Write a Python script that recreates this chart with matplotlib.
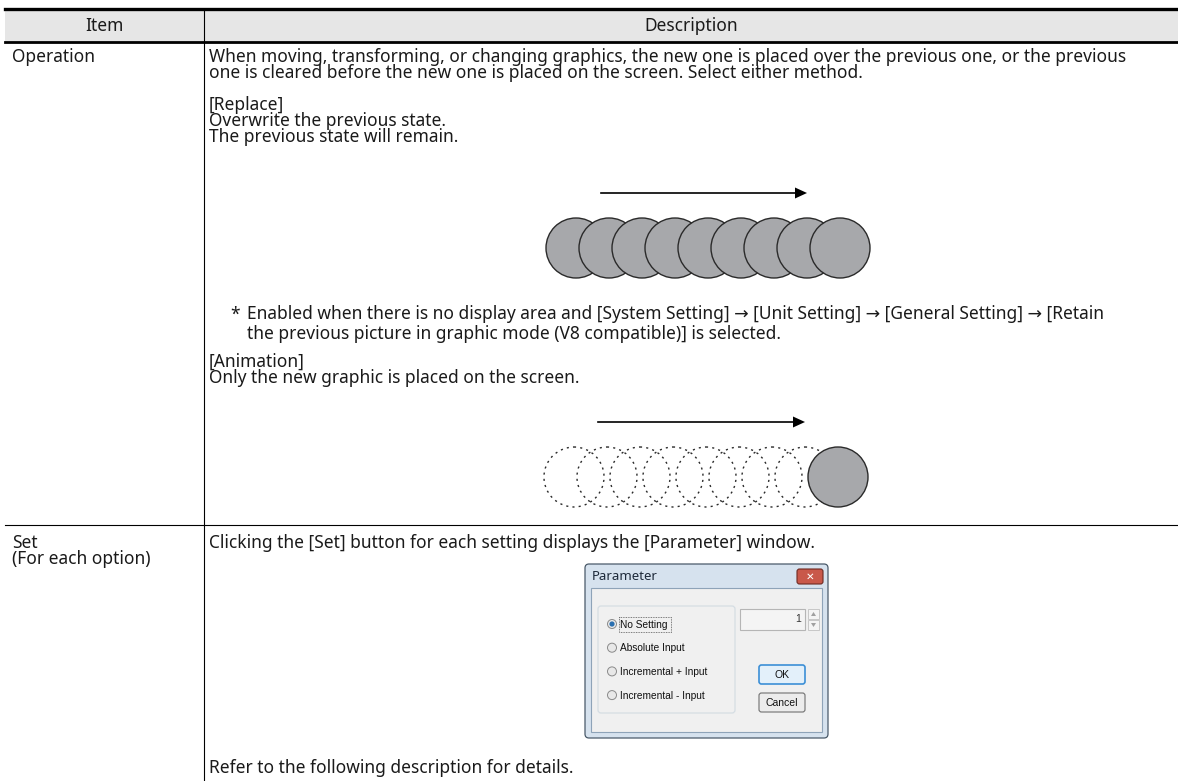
import matplotlib
matplotlib.use("Agg")
import matplotlib.pyplot as plt
from matplotlib.patches import Circle, Rectangle, FancyBboxPatch
from matplotlib.lines import Line2D

# ---------------- content ----------------
header_labels = ["Item", "Description"]
row_items = ["Operation", "Set\n(For each option)"]
op_intro = ["When moving, transforming, or changing graphics, the new one is placed over the previous one, or the previous",
            "one is cleared before the new one is placed on the screen. Select either method."]
replace_lines = ["[Replace]", "Overwrite the previous state.", "The previous state will remain."]
note_lines = ["Enabled when there is no display area and [System Setting] \u2192 [Unit Setting] \u2192 [General Setting] \u2192 [Retain",
              "the previous picture in graphic mode (V8 compatible)] is selected."]
anim_lines = ["[Animation]", "Only the new graphic is placed on the screen."]
set_lines = ["Clicking the [Set] button for each setting displays the [Parameter] window.",
             "Refer to the following description for details."]
dialog_title = "Parameter"
radio_options = ["No Setting", "Absolute Input", "Incremental + Input", "Incremental - Input"]
button_labels = ["OK", "Cancel"]
spin_value = "1"
n_circles = 9

FONT = ["Noto Sans", "DejaVu Sans"]
FS = 12.5
W, H = 1178, 781

fig = plt.figure(figsize=(W / 100, H / 100), dpi=100)
ax = fig.add_axes([0, 0, 1, 1])
ax.set_xlim(0, W)
ax.set_ylim(H, 0)
ax.axis("off")

def txt(x, y, s, **kw):
    kw.setdefault("fontsize", FS)
    kw.setdefault("family", FONT)
    kw.setdefault("va", "center")
    kw.setdefault("ha", "left")
    kw.setdefault("color", "#1a1a1a")
    ax.text(x, y, s, **kw)

# ---------------- table frame ----------------
ax.add_patch(Rectangle((5, 10), W - 5, 32, facecolor="#e6e6e6", edgecolor="none"))
ax.add_line(Line2D([5, W], [9, 9], color="black", lw=2.4))
ax.add_line(Line2D([5, W], [42, 42], color="black", lw=2.0))
ax.add_line(Line2D([204, 204], [10, H], color="black", lw=0.8))
ax.add_line(Line2D([5, W], [525, 525], color="black", lw=0.8))

txt(104, 26, header_labels[0], ha="center")
txt(691, 26, header_labels[1], ha="center")

txt(12, 57, row_items[0])
txt(12, 543, row_items[1].split("\n")[0])
txt(12, 559, row_items[1].split("\n")[1])

# ---------------- operation row ----------------
LX = 209
for i, s in enumerate(op_intro):
    txt(LX, 57 + 16 * i, s)
for i, s in enumerate(replace_lines):
    txt(LX, 105 + 16 * i, s)

def arrow(x0, x1, y):
    ax.add_line(Line2D([x0, x1 - 11], [y, y], color="black", lw=1.2))
    ax.add_patch(plt.Polygon([[x1 - 12, y - 5.5], [x1, y], [x1 - 12, y + 5.5]],
                             closed=True, facecolor="black", edgecolor="none"))

arrow(601, 807, 193)
cx0, step, r = 576, 33, 30
for i in range(n_circles):
    ax.add_patch(Circle((cx0 + step * i, 248), r, facecolor="#a7a8ab",
                        edgecolor="#2a2a2a", lw=1.0, zorder=2 + i))

txt(230, 315, "*")
for i, s in enumerate(note_lines):
    txt(247, 314 + 20 * i, s)

for i, s in enumerate(anim_lines):
    txt(LX, 362 + 16 * i, s)

arrow(598, 805, 422)
cy2 = 477
for i in range(n_circles - 1):
    ax.add_patch(Circle((cx0 - 2 + step * i, cy2), r, facecolor="none",
                        edgecolor="#2a2a2a", lw=1.0, linestyle=(0, (1.5, 3.0))))
ax.add_patch(Circle((cx0 - 2 + step * (n_circles - 1), cy2), r, facecolor="#a7a8ab",
                    edgecolor="#2a2a2a", lw=1.0, zorder=5))

# ---------------- set row ----------------
txt(LX, 543, set_lines[0])
txt(LX, 768, set_lines[1])

# dialog window
DL, DT, DR, DB = 585, 564, 828, 738
ax.add_patch(FancyBboxPatch((DL, DT), DR - DL, DB - DT, boxstyle="round,pad=0,rounding_size=4",
                            facecolor="#d6e2ee", edgecolor="#4a5a6a", lw=0.9))
ax.add_patch(Rectangle((DL + 6, DT + 24), DR - DL - 12, DB - DT - 30,
                       facecolor="#f0f0f0", edgecolor="#8ea3b8", lw=0.8))
txt(DL + 7, 577, dialog_title, fontsize=9.5, color="#1e2a3a")
# close button
ax.add_patch(FancyBboxPatch((797, 569), 26, 15, boxstyle="round,pad=0,rounding_size=2.5",
                            facecolor="#c9584a", edgecolor="#6e2a22", lw=0.8))
txt(810, 576.5, "\u2715", ha="center", fontsize=7.5, color="white", weight="bold", family="DejaVu Sans")
# group box
ax.add_patch(FancyBboxPatch((598, 606), 137, 107, boxstyle="round,pad=0,rounding_size=3",
                            facecolor="none", edgecolor="#d5dde3", lw=0.9))
for i, opt in enumerate(radio_options):
    y = 624 + 23.7 * i
    ax.add_patch(Circle((612, y), 4.5, facecolor="#e8e8e8", edgecolor="#8a8a8a", lw=0.7))
    if i == 0:
        ax.add_patch(Circle((612, y), 2.6, facecolor="#2a6fb0", edgecolor="none"))
    txt(620, y + 0.5, opt, fontsize=7.3, family="Liberation Sans", color="#111111")
ax.add_patch(Rectangle((619, 617), 52, 15, facecolor="none", edgecolor="#555555", lw=0.6,
                       linestyle=(0, (1, 1))))
# spin box
ax.add_patch(Rectangle((740, 609), 65, 21, facecolor="#f4f4f4", edgecolor="#b5b5b5", lw=0.8))
txt(801, 619.5, spin_value, ha="right", fontsize=7.5, family="Liberation Sans", color="#333333")
ax.add_patch(Rectangle((808, 609), 11, 10, facecolor="#f4f4f4", edgecolor="#c0c0c0", lw=0.6))
ax.add_patch(Rectangle((808, 620), 11, 10, facecolor="#f4f4f4", edgecolor="#c0c0c0", lw=0.6))
ax.add_patch(plt.Polygon([[811, 616], [813.5, 612], [816, 616]], facecolor="#a0a0a0", edgecolor="none"))
ax.add_patch(plt.Polygon([[811, 623], [813.5, 627], [816, 623]], facecolor="#a0a0a0", edgecolor="none"))
# buttons
ax.add_patch(FancyBboxPatch((759, 665), 46, 19, boxstyle="round,pad=0,rounding_size=2.5",
                            facecolor="#e3f0fa", edgecolor="#3c8fd6", lw=1.2))
txt(782, 675, button_labels[0], ha="center", fontsize=7.5, family="Liberation Sans", color="#111111")
ax.add_patch(FancyBboxPatch((759, 693), 46, 19, boxstyle="round,pad=0,rounding_size=2.5",
                            facecolor="#ececec", edgecolor="#707070", lw=0.8))
txt(782, 703, button_labels[1], ha="center", fontsize=7.5, family="Liberation Sans", color="#111111")

fig.savefig("out.png", dpi=100, facecolor="white")
